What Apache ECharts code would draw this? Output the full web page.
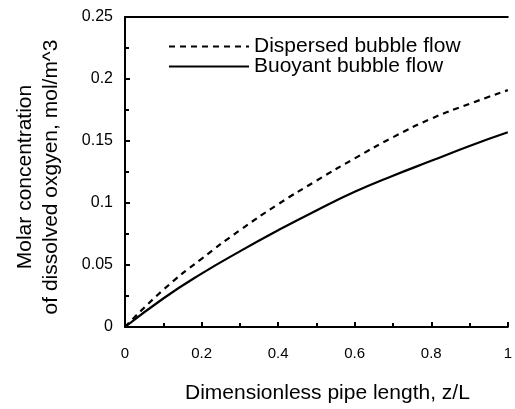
<!DOCTYPE html>
<html>
<head>
<meta charset="utf-8">
<script src="https://cdn.jsdelivr.net/npm/echarts@6/dist/echarts.min.js"></script>
<style>html,body{margin:0;padding:0;background:#fff}#c{width:515px;height:409px}</style>
</head>
<body>
<div id="c"></div>
<script>
var zValues = [0, 0.1, 0.2, 0.3, 0.4, 0.5, 0.6, 0.7, 0.8, 0.9, 1.0];
var dispersed = [0, 0.030, 0.055, 0.078, 0.099, 0.118, 0.136, 0.153, 0.168, 0.180, 0.191];
var buoyant = [0, 0.023, 0.043, 0.061, 0.078, 0.094, 0.109, 0.122, 0.134, 0.146, 0.157];
var seriesNames = ['Dispersed bubble flow', 'Buoyant bubble flow'];
var xTitle = 'Dimensionless pipe length, z/L';
var yTitle = 'Molar concentration\nof dissolved oxgyen, mol/m^3';

function pairs(xs, ys) { return xs.map(function (x, i) { return [x, ys[i]]; }); }

var FONT = '"Liberation Sans", Arial, sans-serif';
var chart = echarts.init(document.getElementById('c'), null, {renderer: 'canvas'});
chart.setOption({
  animation: false,
  backgroundColor: '#fff',
  grid: {left: 125, top: 17, right: 0, bottom: 78},
  legend: {
    orient: 'vertical', left: 163, top: 31,
    itemWidth: 80, itemHeight: 10, itemGap: -1,
    itemStyle: {opacity: 0},
    textStyle: {fontFamily: FONT, fontSize: 21, color: '#000', lineHeight: 19},
    data: seriesNames
  },
  xAxis: [{
    type: 'value', min: 0, max: 1, interval: 0.2,
    name: xTitle, nameLocation: 'middle', nameGap: 56,
    nameTextStyle: {fontFamily: FONT, fontSize: 21, color: '#000', padding: [0, 0, 0, 22]},
    axisLine: {show: true, lineStyle: {color: '#000', width: 2}},
    axisTick: {show: true, inside: true, length: 5, lineStyle: {color: '#000', width: 2}},
    minorTick: {show: true, splitNumber: 2, length: 4, lineStyle: {color: '#000', width: 2}},
    axisLabel: {fontFamily: FONT, fontSize: 15, color: '#000', margin: 19},
    splitLine: {show: false}
  }, {
    type: 'value', position: 'top', min: 0, max: 1,
    axisLine: {show: true, onZero: false, lineStyle: {color: '#000', width: 2}},
    axisTick: {show: false}, axisLabel: {show: false}, splitLine: {show: false}
  }],
  yAxis: {
    type: 'value', min: 0, max: 0.25, interval: 0.05,
    name: yTitle, nameLocation: 'middle', nameGap: 61, nameRotate: 90,
    nameTextStyle: {fontFamily: FONT, fontSize: 21, color: '#000', lineHeight: 26, padding: [0, 10, 0, 0]},
    axisLine: {show: true, lineStyle: {color: '#000', width: 2}},
    axisTick: {show: true, inside: true, length: 5, lineStyle: {color: '#000', width: 2}},
    minorTick: {show: true, splitNumber: 2, length: 4, lineStyle: {color: '#000', width: 2}},
    axisLabel: {fontFamily: FONT, fontSize: 16, color: '#000', margin: 12},
    splitLine: {show: false}
  },
  series: [{
    name: seriesNames[0], type: 'line', smooth: true, symbol: 'none',
    data: pairs(zValues, dispersed),
    lineStyle: {color: '#000', width: 2.2, type: [6, 5]},
    itemStyle: {color: '#000'}
  }, {
    name: seriesNames[1], type: 'line', smooth: true, symbol: 'none',
    data: pairs(zValues, buoyant),
    lineStyle: {color: '#000', width: 2.2, type: 'solid'},
    itemStyle: {color: '#000'}
  }]
});
</script>
</body>
</html>
